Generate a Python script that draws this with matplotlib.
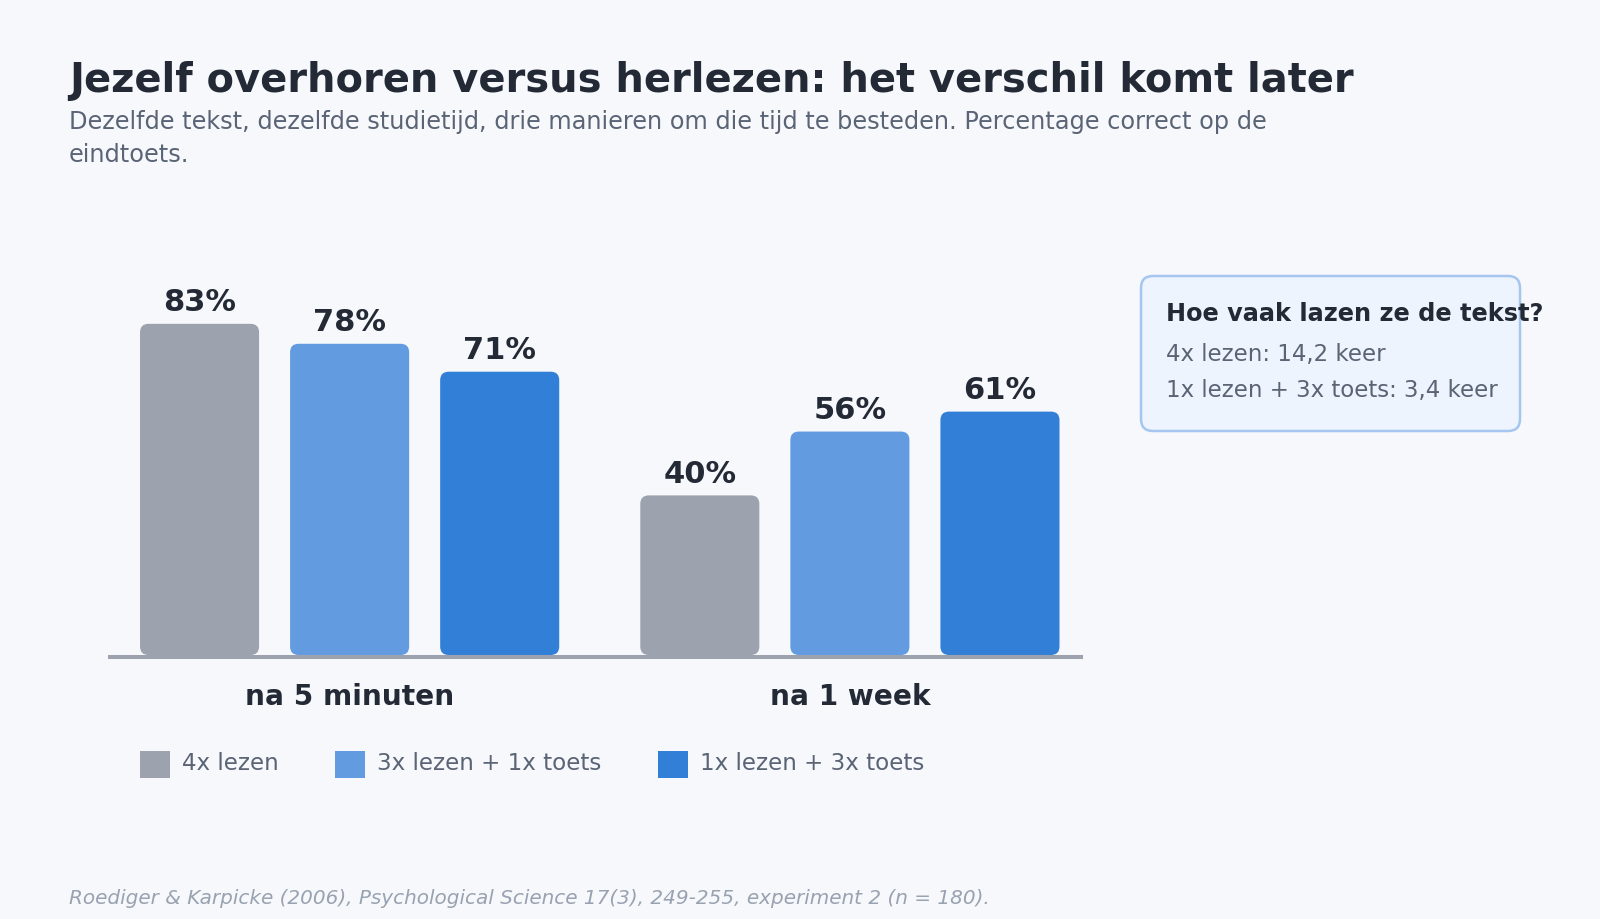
import numpy as np
import matplotlib
matplotlib.use("Agg")
import matplotlib.pyplot as plt
from matplotlib.patches import FancyBboxPatch, Rectangle

# data
groups = ["na 5 minuten", "na 1 week"]
series = ["4x lezen", "3x lezen + 1x toets", "1x lezen + 3x toets"]
values = [
    [83, 40],   # 4x lezen
    [78, 56],   # 3x lezen + 1x toets
    [71, 61],   # 1x lezen + 3x toets
]
colors = ["#9ca3af", "#629be0", "#317fd6"]

title = "Jezelf overhoren versus herlezen: het verschil komt later"
subtitle = ["Dezelfde tekst, dezelfde studietijd, drie manieren om die tijd te besteden. Percentage correct op de",
            "eindtoets."]
box_title = "Hoe vaak lazen ze de tekst?"
box_lines = ["4x lezen: 14,2 keer", "1x lezen + 3x toets: 3,4 keer"]
source = "Roediger & Karpicke (2006), Psychological Science 17(3), 249-255, experiment 2 (n = 180)."

BG = "#f6f8fc"
DARK = "#232a35"
MUTED = "#5a6475"
W, H = 1600, 920

fig = plt.figure(figsize=(W / 100, H / 100), dpi=100, facecolor=BG)
inch = fig.dpi_scale_trans


def px(x, y):
    # pixel position (from top left) to inches
    return x / 100, (H - y) / 100


def ftext(x, y, s, **kw):
    fig.text(*px(x, y), s, transform=inch, va="baseline", **kw)


# titles
ftext(69, 92, title, fontsize=28.8, fontweight="bold", color=DARK)
ftext(69, 129, subtitle[0], fontsize=17.3, color=MUTED)
ftext(69, 162, subtitle[1], fontsize=17.3, color=MUTED)

# axes: y=0 at pixel 656, 100 at 257
ax = fig.add_axes([110 / W, (H - 656) / H, 971 / W, 399 / H])
ax.set_facecolor("none")
ax.set_xlim(-0.479, 1.462)
ax.set_ylim(0, 100)
ax.axis("off")

x = np.arange(len(groups))
offsets = [-0.3, 0.0, 0.3]
bw = 0.238

# aspect between data units for rounding corners
aspect = (100 / 399) / (1.941 / 971)

for i, name in enumerate(series):
    bars = ax.bar(x + offsets[i], values[i], width=bw, color=colors[i])
    for b, v in zip(bars, values[i]):
        b.remove()
        rb = FancyBboxPatch((b.get_x(), b.get_y()), b.get_width(), b.get_height(),
                            boxstyle="round,pad=0,rounding_size=0.017",
                            mutation_aspect=aspect, facecolor=colors[i],
                            edgecolor="none", zorder=2)
        ax.add_patch(rb)
        ax.annotate(f"{v}%", (b.get_x() + b.get_width() / 2, v),
                    xytext=(0, 10), textcoords="offset points",
                    ha="center", va="baseline", fontsize=22,
                    fontweight="bold", color=DARK)

# baseline
ax.axhline(-0.4, color="#9ca3af", linewidth=2.9, zorder=3, clip_on=False)

# group labels
for j, g in enumerate(groups):
    ax.annotate(g, (x[j], 0), xytext=(0, -35.5), textcoords="offset points",
                ha="center", va="baseline", fontsize=20.2, fontweight="bold",
                color=DARK)

# legend
leg_x = [140, 335, 658]
for i, name in enumerate(series):
    fig.patches.append(Rectangle(px(leg_x[i], 779), 0.30, 0.27,
                                 transform=inch, facecolor=colors[i],
                                 edgecolor="none"))
    ftext(leg_x[i] + 42, 770, name, fontsize=16.6, color=MUTED)

# info box
box = FancyBboxPatch(px(1141, 432), 3.79, 1.55, transform=inch,
                     boxstyle="round,pad=0,rounding_size=0.12",
                     facecolor="#edf4fd", edgecolor="#a6c6f0", linewidth=1.8)
fig.patches.append(box)
ftext(1166, 321, box_title, fontsize=17.3, fontweight="bold", color=DARK)
ftext(1166, 361, box_lines[0], fontsize=16.5, color=MUTED)
ftext(1166, 397, box_lines[1], fontsize=16.5, color=MUTED)

# source
ftext(69, 904, source, fontsize=14.45, style="italic", color="#99a2b0")

fig.savefig("out.png", dpi=100, facecolor=BG)
